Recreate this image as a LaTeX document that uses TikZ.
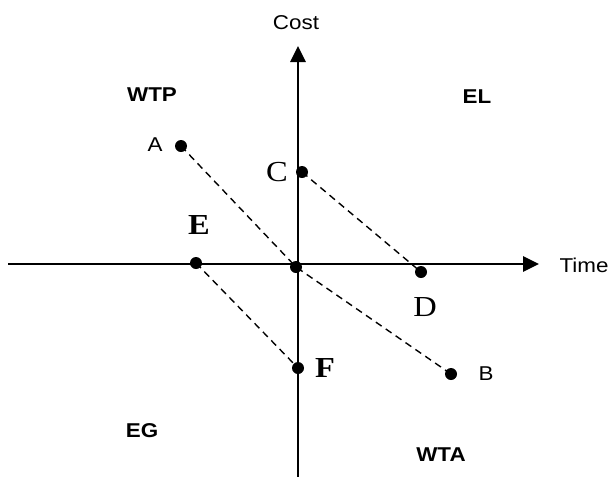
\documentclass[tikz,border=0pt]{standalone}
\usepackage{fontspec}
\setmainfont{Liberation Serif}
\newfontfamily\axisfont[FakeStretch=1.12]{Liberation Sans}
\newfontfamily\ptfont[FakeStretch=1.12]{Liberation Serif}
\usetikzlibrary{positioning,arrows.meta}

\begin{document}
\begin{tikzpicture}[
    x=1pt, y=-1pt,
    axis/.style={
        line width=2.9pt,
        -{Triangle[length=16pt, width=15pt]}
    },
    guide/.style={
        line width=1.4pt,
        dash pattern=on 7pt off 5pt
    },
    dot/.style={circle, fill=black, inner sep=0pt, minimum size=12pt},
    quad/.style={font=\axisfont\fontsize{20}{20}\selectfont\bfseries, inner sep=0pt},
    axlabel/.style={font=\axisfont\fontsize{20}{20}\selectfont, inner sep=0pt},
    sanslabel/.style={font=\axisfont\fontsize{20}{20}\selectfont, inner sep=0pt},
    seriflabel/.style={font=\ptfont\fontsize{29}{29}\selectfont, inner sep=0pt},
    boldlabel/.style={font=\ptfont\fontsize{29}{29}\selectfont\bfseries, inner sep=0pt}
]
\useasboundingbox (0,0) rectangle (611,477);

%% ===== AXES =====
\coordinate (tleft)  at (8,264);
\coordinate (tright) at (539,264);
\coordinate (cbot)   at (298,477);
\coordinate (ctop)   at (298,46);

\draw[axis] (tleft) -- (tright);
\draw[axis] (cbot) -- (ctop);

\node[axlabel] (costlbl) at (296,23) {Cost};
\node[axlabel] (timelbl) at (584,265) {Time};

%% ===== QUADRANTS =====
\node[quad] (wtp) at (152,95) {WTP};
\node[quad] (el)  at (477,97) {EL};
\node[quad] (eg)  at (142,431) {EG};
\node[quad] (wta) at (441,455) {WTA};

%% ===== POINTS =====
\node[dot] (A) at (181,146) {};
\node[dot] (B) at (451,374) {};
\node[dot] (C) at (302,172) {};
\node[dot] (D) at (421,272) {};
\node[dot] (E) at (196,263) {};
\node[dot] (F) at (298,368) {};
\node[dot] (O) at (296,267) {};

\node[sanslabel] (Alabel) at (155,145) {A};
\node[sanslabel] (Blabel) at (486,374) {B};
\node[seriflabel] (Clabel) at (277,172) {C};
\node[seriflabel] (Dlabel) at (425,307) {D};
\node[boldlabel] (Elabel) at (199,225) {E};
\node[boldlabel] (Flabel) at (325,368) {F};

%% ===== DASHED LINES =====
\draw[guide] (A.center) -- (O.center) -- (B.center);
\draw[guide] (C.center) -- (D.center);
\draw[guide] (E.center) -- (F.center);

\end{tikzpicture}
\end{document}
